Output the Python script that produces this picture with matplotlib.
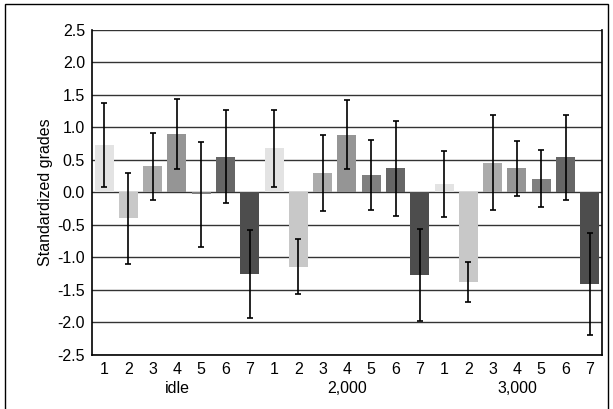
import matplotlib.pyplot as plt
import numpy as np
from matplotlib.patches import Rectangle

groups = ['idle', '2,000', '3,000']
levels = ['1', '2', '3', '4', '5', '6', '7']
means = [
    [0.73, -0.40, 0.40, 0.90, -0.03, 0.55, -1.25],
    [0.68, -1.14, 0.30, 0.89, 0.27, 0.37, -1.27],
    [0.13, -1.38, 0.46, 0.37, 0.21, 0.54, -1.41],
]
errs = [
    [0.65, 0.70, 0.52, 0.54, 0.81, 0.71, 0.68],
    [0.59, 0.42, 0.58, 0.53, 0.54, 0.73, 0.71],
    [0.51, 0.31, 0.73, 0.42, 0.44, 0.65, 0.78],
]
colors = ['#e3e3e3', '#c8c8c8', '#ababab', '#959595', '#7f7f7f', '#666666', '#4d4d4d']

plt.rcParams['font.family'] = ['Liberation Sans', 'DejaVu Sans']
fig = plt.figure(figsize=(6.13, 4.09), dpi=100)
ax = fig.add_axes([0.150, 0.132, 0.832, 0.795])

x = np.arange(21)
vals = np.concatenate(means)
ers = np.concatenate(errs)
cols = colors * 3
ax.bar(x, vals, width=0.78, color=cols, zorder=2)
ax.errorbar(x, vals, yerr=ers, fmt='none', ecolor='black', elinewidth=1.2,
            capsize=2.5, capthick=1.2, zorder=3)

ax.set_xlim(-0.5, 20.5)
ax.set_ylim(-2.5, 2.5)
ax.set_yticks(np.arange(-2.5, 2.51, 0.5))
ax.set_yticklabels(['%.1f' % v for v in np.arange(-2.5, 2.51, 0.5)], fontsize=11.5)
ax.yaxis.grid(True, color='#333333', linewidth=1, zorder=0)
ax.set_axisbelow(True)
ax.set_xticks(x)
ax.set_xticklabels(levels * 3, fontsize=11.5)
ax.tick_params(axis='both', length=0, pad=5)
for i, g in enumerate(groups):
    ax.text(3 + 7 * i, -0.08, g, transform=ax.get_xaxis_transform(),
            ha='center', va='top', fontsize=11.5)
ax.set_ylabel('Standardized grades', fontsize=11.5, labelpad=3)
for s in ['left', 'bottom', 'right']:
    ax.spines[s].set_linewidth(1.2)
ax.spines['top'].set_visible(False)

fig.patches.append(Rectangle((0.008, -0.1), 0.984, 1.09, transform=fig.transFigure,
                             fill=False, edgecolor='black', linewidth=1))

fig.savefig('out.png', dpi=100)
